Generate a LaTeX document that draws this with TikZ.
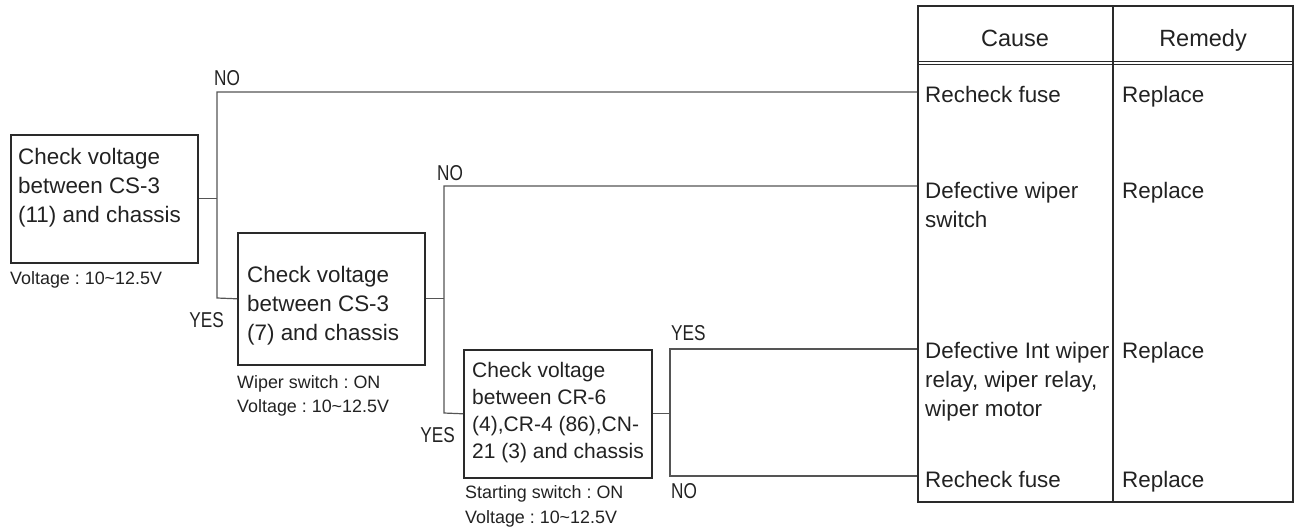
\documentclass[tikz,border=0pt]{standalone}
\usepackage{fontspec}
\setmainfont{Liberation Sans}
\usepackage{graphicx}
\frenchspacing
\newcommand{\mlines}[1]{\begin{tabular}[t]{@{}l@{}}#1\end{tabular}}
\newcommand{\lab}[1]{\scalebox{0.8}[1]{#1}}
\definecolor{txt}{HTML}{222222}
\definecolor{boxc}{HTML}{2A2A2A}
\definecolor{linec}{HTML}{555555}
\begin{document}
\begin{tikzpicture}[x=1pt,y=-1pt,
  box/.style={draw=boxc, line width=1.6pt, inner sep=0pt, anchor=north west},
  conn/.style={draw=linec, line width=1.2pt},
  tline/.style={draw=boxc, line width=1.4pt},
  mainf/.style={font=\fontsize{22.4}{29}\selectfont, text=txt, inner sep=0pt, anchor=base west},
  smallf/.style={font=\fontsize{21}{27}\selectfont, text=txt, inner sep=0pt, anchor=base west},
  notef/.style={font=\fontsize{17.9}{24}\selectfont, text=txt, inner sep=0pt, anchor=base west},
  labf/.style={font=\fontsize{21.5}{24}\selectfont, text=txt, inner sep=0pt},
  headf/.style={font=\fontsize{23.5}{28}\selectfont, text=txt, inner sep=0pt, anchor=base},
  cellf/.style={font=\fontsize{22.4}{29}\selectfont, text=txt, inner sep=0pt, anchor=base west}
]
\useasboundingbox (0,0) rectangle (1300,530);

% check boxes
\node[box, minimum width=187pt, minimum height=128pt] (b1) at (10,134) {};
\node[box, minimum width=187pt, minimum height=132pt] (b2) at (237,232) {};
\node[box, minimum width=188pt, minimum height=128pt] (b3) at (463,349) {};

\node[mainf] (b1t) at (18,164) {\mlines{Check voltage\\between CS-3\\(11) and chassis}};
\node[mainf] (b2t) at (247,282) {\mlines{Check voltage\\between CS-3\\(7) and chassis}};
\node[smallf] (b3t) at (472,377) {\mlines{Check voltage\\between CR-6\\(4),CR-4 (86),CN-\\21 (3) and chassis}};

\node[notef] (n1t) at (10,284) {Voltage : 10\textasciitilde12.5V};
\node[notef] (n2t) at (237,388) {\mlines{Wiper switch : ON\\Voltage : 10\textasciitilde12.5V}};
\node[notef, font=\fontsize{17.9}{25}\selectfont] (n3t) at (465,498) {\mlines{Starting switch : ON\\Voltage : 10\textasciitilde12.5V}};

% table
\node[draw=boxc, line width=1.6pt, inner sep=0pt, anchor=north west, minimum width=375pt, minimum height=496pt] (tab) at (917,5) {};
\draw[tline] (1113,5) -- (1113,501);
\draw[draw=boxc, line width=1pt] (917,61) -- (1292,61);
\draw[draw=boxc, line width=1pt] (917,64.5) -- (1292,64.5);

\node[headf] (hc) at (1015,46) {Cause};
\node[headf] (hr) at (1203,46) {Remedy};

\node[cellf] (c1) at (925,102) {Recheck fuse};
\node[cellf] (c2) at (925,198) {\mlines{Defective wiper\\switch}};
\node[cellf] (c3) at (925,358) {\mlines{Defective Int wiper\\relay, wiper relay,\\wiper motor}};
\node[cellf] (c4) at (925,487) {Recheck fuse};
\node[cellf] (m1) at (1122,102) {Replace};
\node[cellf] (m2) at (1122,198) {Replace};
\node[cellf] (m3) at (1122,358) {Replace};
\node[cellf] (m4) at (1122,487) {Replace};

% attach points on table
\coordinate (r1) at (917,92);
\coordinate (r2) at (917,186);
\coordinate (r3) at (917,349);
\coordinate (r4) at (917,476);

% junctions
\coordinate (j1t) at (217,92);
\coordinate (j1b) at (217,298);
\coordinate (j2t) at (444,186);
\coordinate (j2b) at (444,413);
\coordinate (j3t) at (670,349);
\coordinate (j3b) at (670,476);

\draw[conn] (b1.east) -- (b1.east -| j1t);
\draw[conn] (r1) -- (j1t) -- (j1b) -- (b2.west);
\draw[conn] (b2.east) -- (b2.east -| j2t);
\draw[conn] (r2) -- (j2t) -- (j2b) -- (b3.west);
\draw[conn] (b3.east) -- (b3.east -| j3t);
\draw[conn] (r3) -- (j3t) -- (j3b) -- (r4);

% labels
\node[labf, anchor=base west] (l1) at (214,85) {\lab{NO}};
\node[labf, anchor=base east] (l2) at (224,327) {\lab{YES}};
\node[labf, anchor=base west] (l3) at (437,180) {\lab{NO}};
\node[labf, anchor=base east] (l4) at (455,442) {\lab{YES}};
\node[labf, anchor=base west] (l5) at (671,340) {\lab{YES}};
\node[labf, anchor=base west] (l6) at (671,498) {\lab{NO}};
\end{tikzpicture}
\end{document}
